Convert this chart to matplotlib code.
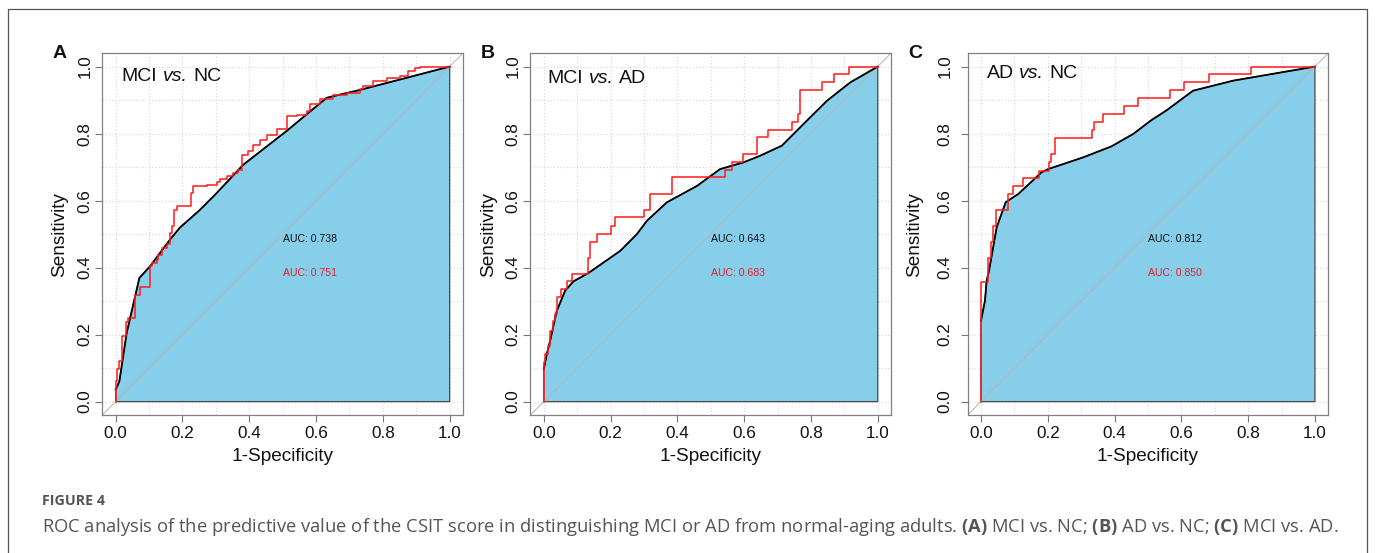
import matplotlib
matplotlib.use('Agg')
import matplotlib.pyplot as plt
import numpy as np
from matplotlib.patches import Polygon, Rectangle

plt.rcParams['font.family'] = ['Liberation Sans', 'DejaVu Sans']
plt.rcParams['mathtext.fontset'] = 'custom'
plt.rcParams['mathtext.rm'] = 'Open Sans'
plt.rcParams['mathtext.it'] = 'Open Sans:italic'
plt.rcParams['mathtext.bf'] = 'Open Sans:bold'

# ---------------- data ----------------
panel_letters = ['A', 'B', 'C']
title_first = ['MCI', 'MCI', 'AD']
title_mid = 'vs.'
title_last = ['NC', 'AD', 'NC']
auc_smooth = ['0.738', '0.643', '0.812']
auc_empirical = ['0.751', '0.683', '0.850']

# Panel A (MCI vs. NC)
a_smooth_fpr = [0.0, 0.011, 0.033, 0.071, 0.103, 0.163, 0.192, 0.252, 0.30, 0.382, 0.512, 0.632, 0.73, 1.0]
a_smooth_tpr = [0.036, 0.06, 0.205, 0.369, 0.404, 0.484, 0.519, 0.572, 0.62, 0.707, 0.808, 0.907, 0.93, 1.0]
a_emp_fpr = [0.0, 0.0, 0.005, 0.011, 0.020, 0.030, 0.038, 0.058, 0.073, 0.103, 0.108, 0.123, 0.128,
             0.138, 0.153, 0.163, 0.168, 0.175, 0.183, 0.225, 0.231, 0.272, 0.302, 0.312, 0.332,
             0.352, 0.367, 0.377, 0.397, 0.412, 0.432, 0.452, 0.482, 0.512, 0.542, 0.572, 0.582,
             0.612, 0.652, 0.692, 0.732, 0.742, 0.771, 0.811, 0.851, 0.876, 0.896, 0.911, 1.0]
a_emp_tpr = [0.0, 0.061, 0.098, 0.120, 0.195, 0.237, 0.250, 0.319, 0.342, 0.404, 0.414, 0.424, 0.439,
             0.459, 0.469, 0.503, 0.523, 0.573, 0.583, 0.623, 0.643, 0.648, 0.655, 0.663, 0.673,
             0.683, 0.691, 0.737, 0.747, 0.767, 0.782, 0.797, 0.814, 0.852, 0.857, 0.867, 0.887,
             0.902, 0.916, 0.921, 0.933, 0.941, 0.956, 0.966, 0.973, 0.986, 0.996, 1.0, 1.0]

# Panel B (MCI vs. AD)
b_smooth_fpr = [0.0, 0.009, 0.019, 0.039, 0.064, 0.089, 0.134, 0.229, 0.279, 0.309, 0.369, 0.459,
                0.528, 0.598, 0.648, 0.713, 0.778, 0.848, 0.918, 1.0]
b_smooth_tpr = [0.097, 0.141, 0.181, 0.271, 0.331, 0.359, 0.384, 0.45, 0.50, 0.54, 0.595, 0.644,
                0.694, 0.714, 0.734, 0.764, 0.829, 0.898, 0.953, 1.0]
b_emp_fpr = [0.0, 0.0, 0.005, 0.012, 0.019, 0.027, 0.034, 0.041, 0.051, 0.069, 0.084, 0.132, 0.139,
             0.159, 0.200, 0.214, 0.299, 0.319, 0.384, 0.543, 0.563, 0.598, 0.638, 0.670, 0.743,
             0.760, 0.766, 0.833, 0.870, 0.913, 1.0]
b_emp_tpr = [0.0, 0.117, 0.141, 0.166, 0.211, 0.241, 0.261, 0.311, 0.336, 0.361, 0.381, 0.430, 0.475,
             0.500, 0.525, 0.550, 0.572, 0.620, 0.669, 0.691, 0.714, 0.739, 0.789, 0.811, 0.834,
             0.859, 0.930, 0.955, 0.978, 1.0, 1.0]

# Panel C (AD vs. NC)
c_smooth_fpr = [0.0, 0.012, 0.017, 0.024, 0.047, 0.074, 0.112, 0.181, 0.201, 0.306, 0.391, 0.456,
                0.51, 0.555, 0.635, 0.755, 1.0]
c_smooth_tpr = [0.241, 0.301, 0.361, 0.39, 0.52, 0.595, 0.62, 0.684, 0.694, 0.729, 0.762, 0.799,
                0.84, 0.869, 0.928, 0.958, 1.0]
c_emp_fpr = [0.0, 0.0, 0.022, 0.030, 0.037, 0.044, 0.080, 0.097, 0.125, 0.174, 0.203, 0.211, 0.221,
             0.331, 0.337, 0.366, 0.428, 0.471, 0.566, 0.607, 0.684, 0.808, 1.0]
c_emp_tpr = [0.0, 0.358, 0.430, 0.475, 0.525, 0.572, 0.620, 0.644, 0.667, 0.689, 0.714, 0.739, 0.787,
             0.811, 0.834, 0.859, 0.882, 0.906, 0.930, 0.953, 0.978, 1.0, 1.0]

tick_values = [0.0, 0.2, 0.4, 0.6, 0.8, 1.0]
tick_labels = ['0.0', '0.2', '0.4', '0.6', '0.8', '1.0']
caption_head = 'FIGURE 4'
caption_text = ('ROC analysis of the predictive value of the CSIT score in distinguishing MCI or AD '
                'from normal-aging adults. $\\mathbf{(A)}$ MCI vs. NC; $\\mathbf{(B)}$ AD vs. NC; '
                '$\\mathbf{(C)}$ MCI vs. AD.')

smooth = [(a_smooth_fpr, a_smooth_tpr), (b_smooth_fpr, b_smooth_tpr), (c_smooth_fpr, c_smooth_tpr)]
empirical = [(a_emp_fpr, a_emp_tpr), (b_emp_fpr, b_emp_tpr), (c_emp_fpr, c_emp_tpr)]

# ---------------- layout ----------------
W, H = 1375, 553
fig = plt.figure(figsize=(W / 100, H / 100), dpi=100)
renderer = fig.canvas.get_renderer()

box_left_px = [102.3, 530.4, 967.6]
box_w_px = 360.7
box_top_px = 53.2
box_bot_px = 415.0
title_pos = [(0.018, 0.970), (0.012, 0.963), (0.017, 0.978)]
ylabel_x_px = [60.0, 488.3, 915.0]
ytick_pad = [2.0, 2.0, 6.0]
letter_pos_px = [(60, 53), (488, 53), (915, 53)]


def text_w(s, **kw):
    t = fig.text(0, 0, s, **kw)
    w = t.get_window_extent(renderer).width
    t.remove()
    return w


def adv(s, **kw):
    # advance width of s followed by a space
    return text_w(s + ' |', **kw) - text_w('|', **kw)


fig.add_artist(Rectangle((8 / W, -0.05), (1367 - 8) / W, 1 - 9 / H + 0.05,
                         transform=fig.transFigure, fill=False, edgecolor='#555555', lw=0.9))

title_kw = dict(fontsize=14, color='#111111', va='center', ha='left')

for i in range(3):
    left = box_left_px[i] / W
    bottom = 1 - box_bot_px / H
    ax = fig.add_axes([left, bottom, box_w_px / W, (box_bot_px - box_top_px) / H])
    ax.set_xlim(-0.04, 1.04)
    ax.set_ylim(-0.04, 1.04)
    for v in np.arange(0, 1.01, 0.1):
        ax.axvline(v, color='#dadada', ls=':', lw=0.9, zorder=0)
        ax.axhline(v, color='#dadada', ls=':', lw=0.9, zorder=0)
    sf, st = smooth[i]
    poly_x = [0.0] + list(sf) + [1.0]
    poly_y = [0.0] + list(st) + [0.0]
    ax.add_patch(Polygon(np.column_stack([poly_x, poly_y]), closed=True,
                         facecolor='#87CEEB', edgecolor='#4a4a4a', lw=0.9, zorder=1))
    ax.plot([-0.04, 1.04], [-0.04, 1.04], color='#b5b5b5', lw=0.7, zorder=2)
    ax.plot(sf, st, color='black', lw=1.3, zorder=3)
    ef, et = empirical[i]
    ax.step(ef, et, where='post', color='#ff1a1a', lw=1.1, zorder=4)

    ax.text(0.5, 0.485, 'AUC: ' + auc_smooth[i], fontsize=7.6, color='#111111', va='center', ha='left')
    ax.text(0.5, 0.385, 'AUC: ' + auc_empirical[i], fontsize=7.6, color='#e8202a', va='center', ha='left')

    ax.set_xticks(tick_values)
    ax.set_xticklabels(tick_labels)
    ax.set_yticks(tick_values)
    ax.set_yticklabels(tick_labels, rotation=90, va='center')
    ax.tick_params(axis='both', direction='out', length=5, width=0.8, color='#777777',
                   labelsize=12.3, labelcolor='#111111')
    ax.tick_params(axis='x', pad=3)
    ax.tick_params(axis='y', pad=ytick_pad[i])
    for s in ax.spines.values():
        s.set_color('#808080')
        s.set_linewidth(0.9)

    ax.set_xlabel('1-Specificity', fontsize=13.7, va='center', color='#111111')
    ax.xaxis.set_label_coords(0.5, (box_bot_px - 456.5) / (box_bot_px - box_top_px))
    ax.set_ylabel('Sensitivity', fontsize=13.7, va='center', color='#111111')
    ax.yaxis.set_label_coords((ylabel_x_px[i] - box_left_px[i]) / box_w_px, 0.5)

    # panel title "X vs. Y" with italic "vs."
    tx, ty = title_pos[i]
    px0 = box_left_px[i] + (tx + 0.04) / 1.08 * box_w_px
    py0 = box_bot_px - (ty + 0.04) / 1.08 * (box_bot_px - box_top_px)
    fy = 1 - py0 / H
    fig.text(px0 / W, fy, title_first[i], **title_kw)
    px1 = px0 + adv(title_first[i], **title_kw)
    fig.text(px1 / W, fy, title_mid, style='italic', **title_kw)
    px2 = px1 + adv(title_mid, style='italic', **title_kw)
    fig.text(px2 / W, fy, title_last[i], **title_kw)

    lx, ly = letter_pos_px[i]
    fig.text(lx / W, 1 - ly / H, panel_letters[i], fontsize=14, fontweight='bold',
             ha='center', va='center', color='#111111')

fig.text(42 / W, 1 - 501.0 / H, caption_head, fontsize=10.3, fontweight='bold',
         family='Open Sans', color='#555555', va='center', ha='left')
fig.text(42 / W, 1 - 527.0 / H, caption_text, fontsize=13.2,
         family='Open Sans', color='#555555', va='center', ha='left')

fig.savefig('out.png', dpi=100)
